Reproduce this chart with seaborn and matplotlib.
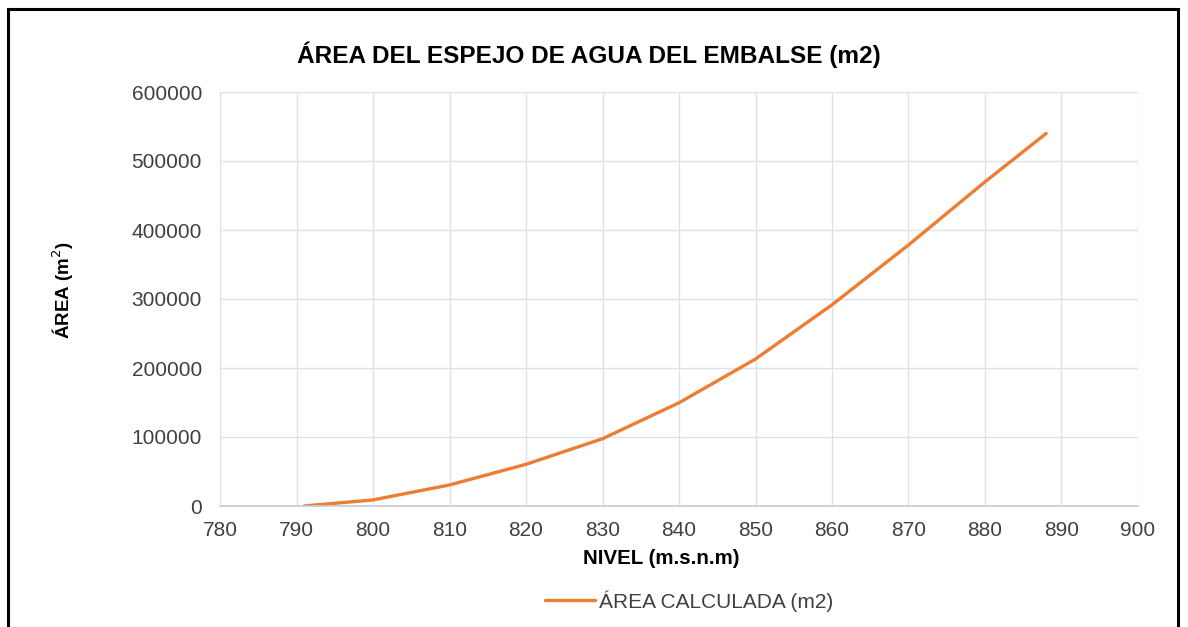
import pandas as pd
import matplotlib.pyplot as plt
import seaborn as sns
from matplotlib.patches import Rectangle

# Niveles (m.s.n.m) y area calculada (m2)
nivel = [791, 800, 810, 820, 830, 840, 850, 860, 870, 880, 888]
area = [0, 8800, 30500, 60400, 97500, 149600, 213000, 291600, 378300, 469800, 540000]

data = pd.DataFrame({'nivel': nivel, 'area': area, 'serie': 'ÁREA CALCULADA (m2)'})

sns.set_style('white')
plt.rcParams['font.family'] = ['Liberation Sans', 'DejaVu Sans']

fig = plt.figure(figsize=(11.88, 6.27), dpi=100)
ax = fig.add_axes([220 / 1188, 121 / 627, 918 / 1188, 414 / 627])

sns.lineplot(ax=ax, data=data, x='nivel', y='area', hue='serie',
             palette=['#ED7D31'], linewidth=2.4, legend=False)

ax.set_xlim(780, 900)
ax.set_ylim(0, 600000)
ax.set_xticks(range(780, 901, 10))
ax.set_yticks(range(0, 600001, 100000))
ax.grid(True, color='#DCE1EA', linewidth=1.0)
ax.set_axisbelow(True)
for s in ['top', 'right', 'left']:
    ax.spines[s].set_visible(False)
ax.spines['bottom'].set_color('#C5CCD8')
ax.spines['bottom'].set_linewidth(1.2)
ax.tick_params(axis='both', length=0, labelsize=15, colors='#404040')
ax.tick_params(axis='y', pad=13)
ax.tick_params(axis='x', pad=11)

ax.set_xlabel('')
ax.set_ylabel('')
fig.text(661 / 1188, 1 - 558 / 627, 'NIVEL (m.s.n.m)', ha='center', va='center',
         fontsize=14.8, fontweight='bold', color='black')
fig.text(63 / 1188, 1 - 290 / 627, 'ÁREA (m$^2$)', ha='center', va='center',
         rotation=90, fontsize=13.5, fontweight='bold', color='black')
fig.text(589 / 1188, 1 - 55 / 627, 'ÁREA DEL ESPEJO DE AGUA DEL EMBALSE (m2)',
         ha='center', va='center', fontsize=17.6, fontweight='bold', color='black')

# leyenda inferior
handles = [plt.Line2D([], [], color='#ED7D31', linewidth=2.4)]
fig.legend(handles, ['ÁREA CALCULADA (m2)'], loc='center',
           bbox_to_anchor=(689 / 1188, 1 - 601 / 627), frameon=False,
           fontsize=15, handlelength=2.4, handletextpad=0.2,
           labelcolor='#404040')

# marco exterior
fig.patches.append(Rectangle((8 / 1188, -0.05), 1170 / 1188, 1.05 - 9 / 627,
                             transform=fig.transFigure, fill=False,
                             edgecolor='black', linewidth=2.2))

fig.savefig('out.png', dpi=100)
